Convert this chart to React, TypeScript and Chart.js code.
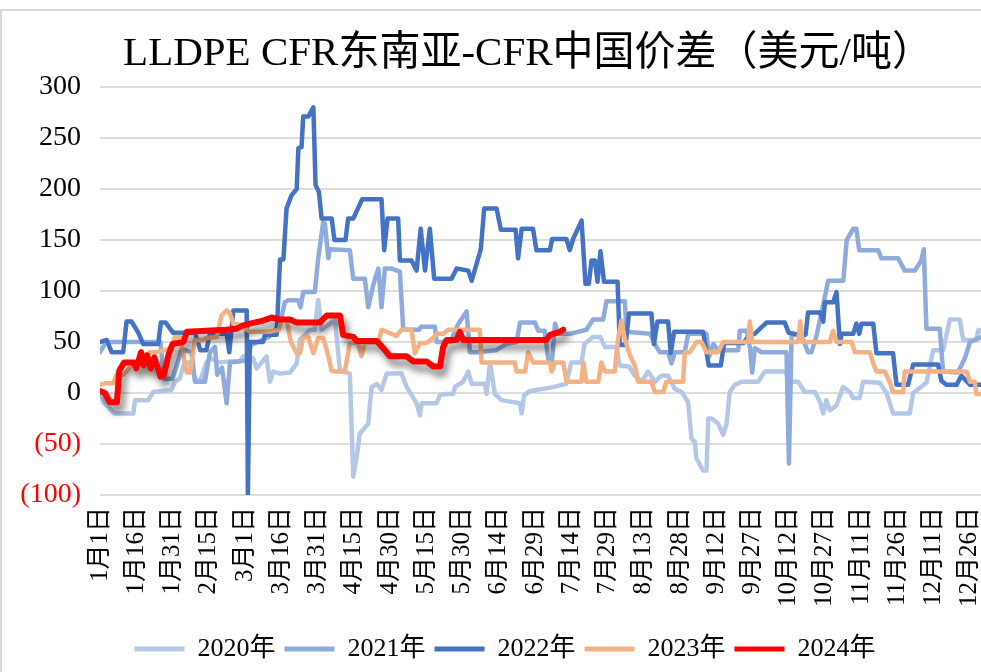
import React, { useEffect, useRef } from 'react';
import { Chart, registerables } from 'chart.js';

Chart.register(...registerables);

const titleText = 'LLDPE CFR东南亚-CFR中国价差（美元/吨）';
const seriesNames = ['2020年', '2021年', '2022年', '2023年', '2024年'];
const seriesColors = ['#B4C7E7', '#8FAADC', '#4472C4', '#F4B183', '#FF0000'];

const tickDays = [0, 15, 30, 45, 60, 75, 90, 105, 120, 135, 150, 165, 180, 195, 210, 225, 240, 255, 270, 285, 300, 315, 330, 345, 360];
const tickLabels = ['1月1日', '1月16日', '1月31日', '2月15日', '3月1日', '3月16日', '3月31日', '4月15日', '4月30日', '5月15日', '5月30日', '6月14日', '6月29日', '7月14日', '7月29日', '8月13日', '8月28日', '9月12日', '9月27日', '10月12日', '10月27日', '11月11日', '11月26日', '12月11日', '12月26日'];

// [day of year, spread USD/t]
const s2020: [number, number][] = [
  [0, 0], [2, -10], [6, -20], [13.8, -20], [14.5, -7], [20, -7], [22, 1], [29.6, 3], [31, 11], [33, 14], [35, 30], [37, 30],
  [39.5, 14], [41.5, 12], [44, 30], [46, 34], [48.9, 30], [53.8, 31], [57.9, 31], [59.3, 36], [63.4, 34], [64.8, 24], [67.6, 32],
  [68.9, 36], [70.3, 11], [71.7, 21], [74.5, 19], [78.6, 20], [81.4, 29], [82.7, 52], [86.9, 62], [88.9, 62], [90.3, 91], [91.7, 62],
  [95.1, 68], [97.2, 72], [99.3, 22], [103.4, 19], [104.8, -82], [106.2, -63], [107.5, -40], [111, -30], [112.4, 6], [114.5, 9],
  [116.5, 3], [118.6, 19], [124.8, 19], [126.9, 6], [131, -10], [132.4, -22], [133.1, -10], [139.3, -10], [140.7, -2], [143.4, -1],
  [146.2, -1], [146.9, 6], [150.3, 11], [152.4, 21], [153.8, 9], [159.3, 9], [160, -1], [161.4, 30], [163.4, -1], [166.2, -7],
  [173.8, -10], [174.5, -20], [175.5, -2], [178, 2], [186, 5], [193, 9], [195, 30], [199.3, 30], [200.5, 48], [204, 55], [207, 55],
  [209, 45], [213.7, 45], [215, 27], [219, 26], [221.3, 17], [224.1, 11], [226.8, 21], [229.6, 11], [232.4, 17], [235.1, 17],
  [237.9, 4], [240.7, 1], [243.4, -9], [244.8, -45], [246.2, -48], [246.8, -64], [249.6, -76], [251, -76], [251.7, -25], [253.1, -25],
  [255.8, -30], [257.9, -41], [259.3, -30], [260.6, 1], [262.7, 8], [265.5, 11], [272.4, 11], [275.1, 21], [283.4, 21], [286.2, 11],
  [288.9, 11], [291.7, 1], [295.8, 1], [298, -9], [299.3, -20], [300.6, -7], [302, -17], [304.8, -12], [307.5, 6], [310.3, 1],
  [311.7, -5], [314.4, -5], [315.8, 11], [322.7, 10], [325.5, 0], [328.2, -20], [335.1, -20], [336.5, 0], [342, 10], [344.8, 42],
  [348.9, 42], [351.7, 72], [355.8, 72], [357.2, 52], [362.7, 52], [363.5, 62], [365, 60],
];

const s2021: [number, number][] = [
  [0, 40], [2.5, 50], [25, 50], [26.5, 14], [30, 14], [31.7, 27], [33.8, 43], [37.9, 40], [39.3, 11], [43.4, 11], [45.5, 40],
  [47.6, 45], [48.5, 18], [50.5, 25], [52.4, -10], [53.8, 30], [61, 32], [62.5, 47], [70, 55], [74.5, 68], [76.5, 89], [77.9, 91],
  [82, 91], [83, 84], [84.1, 99], [88.9, 99], [90.3, 132], [92.4, 168], [93.1, 166], [94.5, 132], [95.1, 141], [103.4, 140],
  [104.8, 112], [109.6, 112], [111, 84], [112.4, 99], [113.8, 112], [115.2, 122], [116.5, 84], [117.9, 122], [120.7, 122],
  [124.1, 119], [125.5, 62], [132, 62], [133, 65], [138.6, 65], [139.3, 50], [145, 50], [148.3, 68], [151.7, 80], [153.1, 40],
  [155.8, 40], [164, 42], [168, 48], [172.4, 50], [173.8, 69], [180, 69], [181.4, 61], [184, 61], [185.5, 33], [187, 30],
  [188.3, 68], [189.6, 58], [194.4, 58], [201.3, 62], [204, 72], [208.2, 72], [209.6, 90], [217.2, 90], [217.9, 60], [227.6, 58],
  [230.3, 45], [231.7, 40], [235.1, 40], [236.5, 29], [237.9, 40], [242, 40], [243.4, 58], [251, 58], [252, 35], [253.8, 48],
  [255.8, 42], [264.1, 42], [264.8, 61], [267.6, 61], [269, 44], [269.9, 20], [271, 44], [273.8, 40], [284.1, 40], [285.1, -69],
  [286.2, 57], [290.3, 57], [291.7, 48], [293, 40], [294.4, 40], [296.5, 56], [300.5, 100], [301.3, 110], [307.6, 110], [309, 150],
  [311.7, 161], [313, 161], [314.2, 140], [322, 140], [323.4, 132], [330.3, 132], [333, 120], [337.2, 120], [339.9, 130],
  [340.9, 141], [342, 63], [347.5, 63], [348.9, 21], [355, 20], [357.9, 34], [360, 50], [365, 55],
];

const s2022: [number, number][] = [
  [0, 50], [2.8, 52], [4.8, 40], [9.6, 40], [11, 70], [13.1, 70], [15.9, 59], [17.9, 48], [24.1, 48], [25.2, 69], [27.2, 69],
  [30.3, 59], [39.3, 59], [40.5, 50], [41.5, 42], [44, 42], [45.5, 58], [52.4, 58], [53.5, 40], [55.2, 81], [60.7, 81], [61.2, -100],
  [62, 50], [67.5, 50], [68.3, 57], [73.1, 57], [74.5, 131], [75.9, 131], [77.2, 181], [79.3, 194], [81.4, 200], [82.1, 240],
  [83.4, 241], [84.1, 271], [86.2, 271], [88.3, 280], [89.2, 204], [90.6, 197], [91.7, 171], [95.9, 171], [97, 150], [101.6, 150],
  [102.7, 171], [104.8, 171], [108.5, 190], [116.5, 190], [117.6, 140], [119, 171], [123.4, 171], [124.1, 130], [128.9, 130],
  [131, 120], [132.7, 161], [134.5, 120], [136.5, 161], [138.3, 112], [145.5, 112], [147.6, 122], [152.4, 120], [153.8, 110],
  [157.6, 141], [159, 181], [164.1, 181], [165.9, 160], [172, 160], [173, 132], [174.5, 161], [179.2, 161], [180.6, 140],
  [186.2, 140], [187.1, 151], [193, 151], [194.4, 140], [195.8, 151], [199.3, 169], [200.9, 107], [202.3, 107], [203.4, 130],
  [204.8, 130], [205.9, 109], [207.1, 139], [208.6, 109], [214.2, 109], [215.1, 47], [217.5, 47], [218.9, 78], [228.2, 78],
  [229.2, 48], [230.7, 70], [235.1, 70], [236.2, 39], [237.6, 60], [249.6, 60], [251.9, 27], [256.9, 27], [258.3, 49], [266.2, 49],
  [268.9, 57], [270.9, 58], [275.8, 69], [283.4, 69], [285, 59], [289.6, 57], [292, 57], [293, 79], [298, 79], [299.3, 70],
  [300, 89], [303.4, 89], [304.8, 99], [306.2, 48], [306.9, 58], [311.7, 58], [313, 68], [314.2, 58], [315.1, 68], [320, 68],
  [321.3, 39], [328.2, 39], [329.6, 8], [334.4, 8], [336.5, 28], [346.8, 28], [348.2, 12], [350.3, 8], [354.5, 8], [356.5, 17],
  [360, 8], [365, 8],
];

const s2023: [number, number][] = [
  [0, 8], [2.1, 9.5], [5.5, 9.5], [6.9, 18], [9.6, 18], [13.8, 29], [20.7, 40], [23.4, 40], [26.9, 42], [29.6, 44], [31, 55],
  [33.1, 55], [35.9, 20], [37.2, 20], [39.3, 52], [42.7, 52], [44.1, 54], [48.3, 55], [50.3, 76], [52.4, 81], [53.8, 78], [55.2, 68],
  [57.9, 67], [62, 60], [70, 60], [74, 62], [75.2, 72], [77.2, 72], [79, 50], [81.4, 39], [82.7, 39], [84.1, 55], [86.2, 55],
  [88.3, 39], [90.3, 54], [92.4, 54], [94.5, 36], [95.8, 22], [97.2, 21], [101.3, 21], [103.4, 49], [106.9, 49], [108.2, 36],
  [109.6, 49], [115.2, 49], [116.5, 62], [122.7, 56], [124.8, 62], [128.9, 62], [130.3, 39], [132.4, 49], [135.1, 49], [137.9, 54],
  [139.3, 58], [142, 58], [144.1, 62], [157.2, 62], [157.9, 30], [171.7, 30], [172.4, 21], [175.9, 21], [177.2, 40], [179.3, 30],
  [186.2, 30], [186.9, 21], [188.3, 30], [191.7, 30], [193.1, 11], [199.3, 11], [200, 30], [201.3, 11], [206.2, 11], [207.5, 30],
  [208.9, 21], [213, 21], [214.4, 53], [215.8, 71], [217.2, 53], [219.3, 37], [221.3, 27], [222.7, 11], [228.2, 11], [229.6, 1],
  [233.1, 1], [234.4, 11], [241.3, 11], [242, 40], [244.1, 40], [246.8, 50], [248.9, 50], [251, 40], [255.8, 40], [257.9, 50],
  [268.2, 50], [268.9, 70], [269.9, 50], [288.9, 50], [289.8, 70], [290.7, 50], [302, 50], [303.4, 61], [304.8, 50], [311, 50],
  [312.4, 40], [318.6, 40], [320, 29], [321.3, 21], [324.8, 21], [326.8, 11], [328.2, 1], [332.4, 1], [333, 21], [358.6, 21],
  [360, 11], [362, 11], [362.7, -1], [365, -1],
];

const s2024: [number, number][] = [
  [0, 2], [2, 0], [4, -9], [7, -9], [8, 22], [10, 30], [14, 30], [15, 24], [17, 40], [18, 27], [19.5, 37], [21, 24], [22.5, 35],
  [25, 16], [26.5, 18], [28.3, 37], [30, 48], [34.5, 50], [36, 60], [44, 61], [52, 62], [56.5, 63], [59, 66], [62, 68], [67.5, 71],
  [71, 74], [74.5, 72], [78.6, 72], [81.4, 69], [91, 69], [93.8, 76], [99.3, 76], [100.6, 57], [104.8, 55], [106.2, 51],
  [114.5, 51], [117.2, 44], [120, 36], [126.9, 36], [129.6, 31], [135.1, 31], [137.9, 26], [140.7, 26], [142, 45], [143.4, 52],
  [147.6, 52], [148.9, 60], [150.3, 52], [184.8, 52], [186.2, 57], [190.3, 60], [191.7, 62],
];

const FONT = "'Liberation Serif', 'Noto Sans CJK SC', serif";

export default function App() {
  const canvasRef = useRef<HTMLCanvasElement>(null);

  useEffect(() => {
    const canvas = canvasRef.current;
    if (!canvas) return;
    const allSeries = [s2020, s2021, s2022, s2023, s2024];

    const shadowPlugin = {
      id: 'redShadow',
      beforeDatasetDraw(chart: any, args: any) {
        if (args.index === 4) {
          const c = chart.ctx;
          c.save();
          c.shadowColor = 'rgba(0,0,0,0.5)';
          c.shadowBlur = 7;
          c.shadowOffsetX = 4;
          c.shadowOffsetY = 7;
        }
      },
      afterDatasetDraw(chart: any, args: any) {
        if (args.index === 4) chart.ctx.restore();
      },
    };

    const titlePlugin = {
      id: 'chartTitleText',
      afterDraw(chart: any) {
        const c = chart.ctx;
        c.save();
        c.font = `normal 41px ${FONT}`;
        c.fillStyle = '#000';
        c.textAlign = 'center';
        c.textBaseline = 'middle';
        c.fillText(titleText, 528, 54);
        c.restore();
      },
    };

    const chart = new Chart(canvas, {
      type: 'line',
      data: {
        datasets: allSeries.map((s, i) => ({
          label: seriesNames[i],
          data: s.map(([x, y]) => ({ x, y })),
          borderColor: seriesColors[i],
          backgroundColor: seriesColors[i],
          borderWidth: i === 4 ? 6 : 4.5,
          pointRadius: 0,
          pointHoverRadius: 0,
          tension: 0,
          order: 4 - i,
          borderJoinStyle: 'round',
          borderCapStyle: 'round',
        })),
      },
      options: {
        responsive: false,
        animation: false,
        events: [],
        layout: { padding: { left: 0, right: 20, top: 87, bottom: 0 } },
        scales: {
          x: {
            type: 'linear',
            min: 0,
            max: 365,
            afterBuildTicks: (scale: any) => {
              scale.ticks = tickDays.map((v) => ({ value: v }));
            },
            afterFit: (scale: any) => {
              scale.height = 132;
            },
            grid: { display: false, drawTicks: false },
            border: { display: false },
            ticks: {
              autoSkip: false,
              minRotation: 90,
              maxRotation: 90,
              padding: 12,
              color: '#000',
              font: { family: FONT, size: 25 },
              callback: (v: any) => {
                const idx = tickDays.indexOf(Number(v));
                return idx >= 0 ? tickLabels[idx] : '';
              },
            },
          },
          y: {
            position: 'left',
            min: -100,
            max: 300,
            afterFit: (scale: any) => {
              scale.width = 100;
            },
            grid: { color: '#DDDDDD', lineWidth: 2, drawTicks: false },
            border: { display: false },
            ticks: {
              stepSize: 50,
              padding: 19,
              font: { family: FONT, size: 28 },
              color: (ctx: any) => (ctx.tick && ctx.tick.value < 0 ? '#FF0000' : '#000000'),
              callback: (v: any) => (Number(v) < 0 ? `(${-Number(v)})` : `${v}`),
            },
          },
          yRight: {
            type: 'linear',
            position: 'right',
            display: true,
            min: -100,
            max: 300,
            afterFit: (scale: any) => {
              scale.width = 28;
            },
            grid: { display: false, drawTicks: false },
            border: { display: false },
            ticks: { display: false },
          },
        },
        plugins: {
          tooltip: { enabled: false },
          title: { display: false },
          legend: {
            display: true,
            position: 'bottom',
            labels: {
              boxWidth: 50,
              boxHeight: 5,
              padding: 9,
              color: '#000',
              font: { family: FONT, size: 26 },
              sort: (a: any, b: any) => a.datasetIndex - b.datasetIndex,
              generateLabels: (ch: any) => {
                const base = (Chart as any).defaults.plugins.legend.labels.generateLabels(ch);
                return base.map((it: any) => ({ ...it, lineWidth: 0 }));
              },
            },
          },
        },
      } as any,
      plugins: [shadowPlugin, titlePlugin],
    });

    return () => chart.destroy();
  }, []);

  return (
    <div style={{ position: 'absolute', left: 0, top: 0, width: 981, height: 672, overflow: 'hidden', background: '#fff' }}>
      <div
        style={{
          position: 'absolute',
          left: 0,
          top: 9,
          width: 1200,
          height: 800,
          borderLeft: '2px solid #D9D9D9',
          borderTop: '2px solid #D9D9D9',
        }}
      />
      <canvas
        ref={canvasRef}
        width={1030}
        height={672}
        style={{ position: 'absolute', left: 0, top: 0, width: 1030, height: 672, display: 'block' }}
      />
    </div>
  );
}
